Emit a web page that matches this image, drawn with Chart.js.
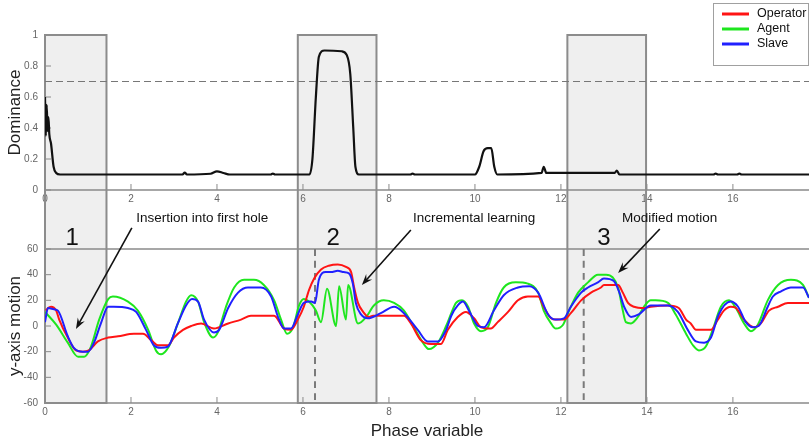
<!DOCTYPE html>
<html>
<head>
<meta charset="utf-8">
<script src="https://cdn.jsdelivr.net/npm/chart.js@4.4.1/dist/chart.umd.min.js"></script>
<style>
  html, body { margin: 0; padding: 0; background: #fff; }
  #wrap { position: relative; width: 809px; height: 445px; }
  canvas { position: absolute; left: 0; }
</style>
</head>
<body>
<div id="wrap">
  <canvas id="topChart" width="809" height="206" style="top:0"></canvas>
  <canvas id="botChart" width="809" height="239" style="top:206px"></canvas>
</div>
<script>
// --- DATA ---
const X_MAX = 17.77;

// Dominance (painel superior)
const domX = [0, 0.02, 0.04, 0.06, 0.08, 0.1, 0.14, 0.2, 0.26, 0.35, 3.2, 3.25, 3.3, 3.85, 4.0, 4.15, 4.3, 5.25, 5.3, 5.35,
  6.15, 6.22, 6.3, 6.37, 6.5, 6.9, 7.02, 7.1, 7.17, 7.22, 7.3, 8.5, 8.55, 8.6, 10.0, 10.1, 10.2, 10.3, 10.38, 10.45, 10.52,
  11.55, 11.6, 11.66, 13.25, 13.3, 13.36, 15.55, 15.6, 15.65, 16.1, 16.15, 16.2, 17.77];
const domY = [0.6, 0.35, 0.55, 0.38, 0.47, 0.36, 0.3, 0.15, 0.11, 0.1, 0.1, 0.113, 0.1, 0.105, 0.12, 0.11, 0.1, 0.1, 0.106, 0.1,
  0.1, 0.2, 0.6, 0.86, 0.9, 0.895, 0.87, 0.75, 0.4, 0.15, 0.1, 0.1, 0.106, 0.1, 0.1, 0.15, 0.25, 0.27, 0.27, 0.15, 0.1,
  0.11, 0.15, 0.11, 0.11, 0.125, 0.1, 0.1, 0.106, 0.1, 0.1, 0.106, 0.1, 0.1];
const threshold = 0.7;

// y-axis motion (painel inferior)
const opX = [0.02, 0.07, 0.14, 0.26, 0.33, 0.53, 0.72, 0.88, 1.02, 1.23, 1.47, 1.7, 2.07, 2.28, 2.47, 2.63, 2.86, 3.0, 3.21, 3.4,
  3.63, 3.93, 4.26, 4.56, 4.79, 5.33, 5.56, 5.72, 5.88, 6.02, 6.14, 6.26, 6.42, 6.6, 6.81, 7.0, 7.12, 7.19, 7.28, 7.4,
  7.53, 7.63, 8.35, 8.51, 8.74, 8.98, 9.21, 9.37, 9.6, 9.79, 9.98, 10.14, 10.37, 10.53, 10.77, 11.0, 11.23, 11.47, 11.6, 11.77,
  11.88, 12.07, 12.23, 12.47, 12.7, 12.93, 13.0, 13.33, 13.44, 13.56, 13.7, 13.93, 14.09, 14.49, 14.74, 14.91, 15.02, 15.14, 15.49, 15.65,
  15.79, 15.95, 16.07, 16.26, 16.49, 16.65, 16.84, 17.05, 17.28, 17.77];
const opY = [12, 14, 15, 12, 5, -9, -19, -20, -19, -12, -9, -8, -6, -6, -11, -15, -15, -9, -3, 0,
  2, -2, 2, 5, 8, 8, -2, -3, 5, 15, 28, 37, 44, 47, 48, 46, 42, 30, 18, 11,
  7, 8, 8, 2, -11, -14, -14, -3, 7, 11, 6, -1, -2, 3, 11, 20, 23, 23, 15, 6,
  5, 5, 10, 20, 26, 30, 32, 32, 26, 18, 15, 14, 15, 16, 14, 5, 2, -3, -3, 5,
  12, 15, 14, 5, -1, 2, 12, 15, 18, 18];

const agX = [0, 0.26, 0.53, 0.77, 0.91, 1.07, 1.26, 1.47, 1.58, 1.93, 2.16, 2.4, 2.58, 2.7, 2.88, 3.09, 3.28, 3.4, 3.56, 3.7,
  3.91, 4.02, 4.21, 4.4, 4.63, 4.86, 5.09, 5.33, 5.49, 5.63, 5.77, 5.91, 6.02, 6.14, 6.3, 6.42, 6.56, 6.77, 6.84, 7.0,
  7.05, 7.28, 7.47, 7.65, 7.88, 8.12, 8.35, 8.58, 8.79, 8.93, 9.14, 9.33, 9.45, 9.56, 9.7, 9.84, 9.98, 10.14, 10.3, 10.49,
  10.67, 10.95, 11.23, 11.47, 11.6, 11.77, 11.88, 12.05, 12.19, 12.4, 12.63, 12.86, 13.05, 13.2, 13.33, 13.44, 13.51, 13.63, 13.79, 13.93,
  14.09, 14.2, 14.49, 14.67, 14.91, 15.07, 15.21, 15.37, 15.53, 15.72, 15.91, 16.07, 16.26, 16.42, 16.58, 16.81, 17.05, 17.35, 17.63, 17.77];
const agY = [11, 1, -13, -24, -24, -16, 5, 21, 23, 19, 12, -3, -19, -22, -16, 2, 19, 24, 19, 3,
  -9, -5, 15, 30, 36, 36, 32, 20, 5, -6, -1, 16, 21, 19, 12, 3, 29, 0, 31, 5,
  32, 2, 7, 16, 20, 18, 12, -1, -13, -18, -13, 0, 10, 18, 20, 15, 2, -4, -1, 18,
  30, 34, 33, 26, 12, 2, -2, 1, 12, 26, 34, 40, 40, 38, 30, 12, 3, 2, 7, 15,
  20, 20, 18, 9, -6, -15, -19, -16, -3, 15, 20, 14, 2, -4, 1, 20, 32, 36, 32, 22];

const slX = [0, 0.07, 0.21, 0.3, 0.53, 0.67, 0.88, 1.0, 1.14, 1.3, 1.47, 1.6, 1.93, 2.12, 2.35, 2.53, 2.7, 2.86, 3.09, 3.28,
  3.42, 3.56, 3.7, 3.93, 4.05, 4.26, 4.49, 4.72, 5.02, 5.26, 5.42, 5.56, 5.72, 5.88, 6.02, 6.19, 6.28, 6.37, 6.53, 6.65,
  6.81, 6.95, 7.07, 7.16, 7.23, 7.35, 7.51, 7.81, 8.12, 8.35, 8.67, 8.9, 9.14, 9.33, 9.45, 9.6, 9.72, 9.86, 10.07, 10.21,
  10.44, 10.67, 11.0, 11.26, 11.47, 11.7, 11.88, 12.07, 12.23, 12.47, 12.63, 12.86, 13.0, 13.23, 13.35, 13.47, 13.63, 13.81, 14.09, 14.49,
  14.72, 14.95, 15.14, 15.33, 15.49, 15.67, 15.95, 16.12, 16.3, 16.47, 16.6, 16.81, 16.93, 17.12, 17.35, 17.63, 17.77];
const slY = [3, 14, 13, 12, -8, -17, -20, -20, -13, 2, 15, 15, 14, 11, -3, -15, -17, -16, 2, 16,
  21, 19, 5, -5, -3, 14, 26, 30, 30, 23, 7, -2, -2, 9, 18, 19, 18, 36, 42, 42,
  43, 42, 41, 33, 18, 9, 6, 10, 15, 10, -3, -12, -12, -3, 8, 16, 19, 12, 0, -1,
  12, 24, 30, 31, 26, 9, 5, 6, 15, 26, 30, 34, 37, 35, 27, 15, 7, 9, 16, 16,
  11, -3, -12, -13, -9, 9, 19, 15, 3, -1, 0, 15, 23, 27, 30, 30, 22];

const seriesNames = ['Operator', 'Agent', 'Slave'];
const seriesColors = ['#ff1414', '#1ee61e', '#2020ff'];

// Regiões destacadas (1, 2, 3) e linhas tracejadas verticais
const boxes = [[0, 1.43], [5.88, 7.71], [12.15, 13.98]];
const boxLabels = ['1', '2', '3'];
const boxLabelAt = [[0.63, 68.6], [6.7, 68.6], [13.0, 68.6]];
const dashX = [6.28, 12.53];

// Anotações (coordenadas em unidades dos dados do painel inferior)
const notes = ['Insertion into first hole', 'Incremental learning', 'Modified motion'];
const noteAt = [[2.12, 84], [8.56, 84], [13.42, 84]];
const arrowFrom = [[2.02, 76.4], [8.51, 74.8], [14.3, 75.6]];
const arrowTo = [[0.72, -2.3], [7.37, 32], [13.33, 41.3]];

const pts = (xs, ys) => xs.map((x, i) => ({ x, y: ys[i] }));

// --- PLUGINS ---
function boxEdges(chart) {
  const x = chart.scales.x;
  return boxes.map(([b0, b1]) => [x.getPixelForValue(b0), x.getPixelForValue(b1)]);
}

const frame = {
  id: 'frame',
  beforeDraw(chart, args, opts) {
    // caixas cinzas por baixo de tudo (rótulos continuam visíveis)
    const { ctx, chartArea: a } = chart;
    const isTop = opts.part === 'top';
    const top = isTop ? a.top : 0;
    const bottom = isTop ? chart.height : a.bottom;
    ctx.save();
    ctx.fillStyle = '#efefef';
    boxEdges(chart).forEach(([l, r]) => ctx.fillRect(l, top, r - l, bottom - top));
    ctx.restore();
  },
  beforeDatasetsDraw(chart, args, opts) {
    const { ctx, chartArea: a, scales: { x, y } } = chart;
    const isTop = opts.part === 'top';
    const top = isTop ? a.top : 0;
    const bottom = isTop ? chart.height : a.bottom;
    ctx.save();
    // eixos
    ctx.strokeStyle = '#8a8a8a';
    ctx.lineWidth = 1.5;
    ctx.beginPath();
    ctx.moveTo(a.left, a.top);
    ctx.lineTo(a.left, a.bottom);
    ctx.lineTo(a.right, a.bottom);
    if (!isTop) { ctx.moveTo(a.left, a.top); ctx.lineTo(a.right, a.top); }
    ctx.stroke();
    // marcas para dentro
    ctx.lineWidth = 1;
    ctx.beginPath();
    x.ticks.forEach(t => {
      if (t.value <= 0) return;
      const px = x.getPixelForValue(t.value);
      ctx.moveTo(px, a.bottom); ctx.lineTo(px, a.bottom - 6);
    });
    y.ticks.forEach(t => {
      const py = y.getPixelForValue(t.value);
      ctx.moveTo(a.left, py); ctx.lineTo(a.left + 6, py);
    });
    ctx.stroke();
    // contorno das caixas
    ctx.strokeStyle = '#8c8c8c';
    ctx.lineWidth = 2;
    boxEdges(chart).forEach(([l, r]) => {
      ctx.beginPath();
      if (isTop) {
        ctx.moveTo(l, bottom); ctx.lineTo(l, top); ctx.lineTo(r, top); ctx.lineTo(r, bottom);
      } else {
        ctx.moveTo(l, top); ctx.lineTo(l, bottom); ctx.lineTo(r, bottom); ctx.lineTo(r, top);
      }
      ctx.stroke();
    });
    ctx.restore();
  },
  afterDraw(chart, args, opts) {
    const { ctx, scales: { x, y } } = chart;
    ctx.save();
    if (opts.part === 'top') {
      // legenda
      ctx.fillStyle = '#fff';
      ctx.fillRect(713, 3, 95, 63);
      ctx.strokeStyle = '#a0a0a0';
      ctx.lineWidth = 1;
      ctx.strokeRect(713.5, 3.5, 95, 62);
      ctx.font = '12.5px "Liberation Sans", Arial, sans-serif';
      ctx.textBaseline = 'middle';
      seriesNames.forEach((name, i) => {
        const ly = 14 + i * 15;
        ctx.strokeStyle = seriesColors[i];
        ctx.lineWidth = 3;
        ctx.beginPath(); ctx.moveTo(722, ly); ctx.lineTo(749, ly); ctx.stroke();
        ctx.fillStyle = '#111';
        ctx.fillText(name, 757, ly);
      });
    } else {
      // números das regiões
      ctx.fillStyle = '#111';
      ctx.font = '24px "Liberation Sans", Arial, sans-serif';
      ctx.textAlign = 'center';
      ctx.textBaseline = 'middle';
      boxLabels.forEach((lbl, i) => {
        ctx.fillText(lbl, x.getPixelForValue(boxLabelAt[i][0]), y.getPixelForValue(boxLabelAt[i][1]));
      });
      // textos + setas
      ctx.font = '13.5px "Liberation Sans", Arial, sans-serif';
      ctx.textAlign = 'left';
      notes.forEach((txt, i) => {
        ctx.fillText(txt, x.getPixelForValue(noteAt[i][0]), y.getPixelForValue(noteAt[i][1]));
        const x0 = x.getPixelForValue(arrowFrom[i][0]), y0 = y.getPixelForValue(arrowFrom[i][1]);
        const x1 = x.getPixelForValue(arrowTo[i][0]), y1 = y.getPixelForValue(arrowTo[i][1]);
        const ang = Math.atan2(y1 - y0, x1 - x0);
        const c = Math.cos(ang), s = Math.sin(ang);
        ctx.strokeStyle = '#111';
        ctx.lineWidth = 1.6;
        ctx.beginPath(); ctx.moveTo(x0, y0);
        ctx.lineTo(x1 - 6 * c, y1 - 6 * s); ctx.stroke();
        ctx.beginPath();
        ctx.moveTo(x1, y1);
        ctx.lineTo(x1 - 11 * c + 4 * s, y1 - 11 * s - 4 * c);
        ctx.lineTo(x1 - 7 * c, y1 - 7 * s);
        ctx.lineTo(x1 - 11 * c - 4 * s, y1 - 11 * s + 4 * c);
        ctx.closePath();
        ctx.fillStyle = '#111';
        ctx.fill();
      });
    }
    ctx.restore();
  }
};

// --- CONFIG COMUM ---
const tickFont = { family: '"Liberation Sans", Arial, sans-serif', size: 10 };
const titleFont = { family: '"Liberation Sans", Arial, sans-serif', size: 17 };

function xAxis(withTitle, h) {
  return {
    type: 'linear', min: 0, max: X_MAX,
    grid: { display: false, drawTicks: false },
    border: { display: false },
    ticks: { stepSize: 2, includeBounds: false, font: tickFont, color: '#666', padding: 3, maxRotation: 0 },
    afterBuildTicks: s => { s.ticks = s.ticks.filter(t => t.value % 2 === 0); },
    title: { display: withTitle, text: 'Phase variable', font: titleFont, color: '#222', padding: { top: 4, bottom: 3 } },
    afterFit: s => { s.height = h; }
  };
}

function yAxis(min, max, step, label) {
  return {
    min, max,
    grid: { display: false, drawTicks: false },
    border: { display: false },
    ticks: { stepSize: step, font: tickFont, color: '#666', padding: 7, callback: v => String(+v.toFixed(1)) },
    title: { display: true, text: label, font: titleFont, color: '#222', padding: { top: 5, bottom: 0 } },
    afterFit: s => { s.width = 45; }
  };
}

const lineDefaults = { pointRadius: 0, fill: false, cubicInterpolationMode: 'monotone' };

// --- GRÁFICO SUPERIOR ---
new Chart(document.getElementById('topChart'), {
  type: 'line',
  data: {
    datasets: [
      { ...lineDefaults, label: 'Dominance', data: pts(domX, domY), borderColor: '#111', borderWidth: 2.2 },
      { ...lineDefaults, label: 'threshold', data: [{ x: 0, y: threshold }, { x: X_MAX, y: threshold }],
        borderColor: '#777', borderWidth: 1.2, borderDash: [7, 4] }
    ]
  },
  options: {
    responsive: false,
    animation: false,
    layout: { padding: { top: 35, left: 0, right: 0, bottom: 0 } },
    plugins: { legend: { display: false }, tooltip: { enabled: false }, frame: { part: 'top' } },
    scales: { x: xAxis(false, 16), y: yAxis(0, 1, 0.2, 'Dominance') }
  },
  plugins: [frame]
});

// --- GRÁFICO INFERIOR ---
const motionSets = [
  { x: slX, y: slY, c: 2 },
  { x: opX, y: opY, c: 0 },
  { x: agX, y: agY, c: 1 }
].map(s => ({ ...lineDefaults, label: seriesNames[s.c], data: pts(s.x, s.y), borderColor: seriesColors[s.c], borderWidth: 2 }));

dashX.forEach(dx => motionSets.push({
  ...lineDefaults, label: 'mark', data: [{ x: dx, y: 60 }, { x: dx, y: -60 }],
  borderColor: '#7a7a7a', borderWidth: 2, borderDash: [7, 5]
}));

new Chart(document.getElementById('botChart'), {
  type: 'line',
  data: { datasets: motionSets },
  options: {
    responsive: false,
    animation: false,
    layout: { padding: { top: 43, left: 0, right: 0, bottom: 0 } },
    plugins: { legend: { display: false }, tooltip: { enabled: false }, frame: { part: 'bottom' } },
    scales: { x: xAxis(true, 42), y: yAxis(-60, 60, 20, 'y-axis motion') }
  },
  plugins: [frame]
});
</script>
</body>
</html>
